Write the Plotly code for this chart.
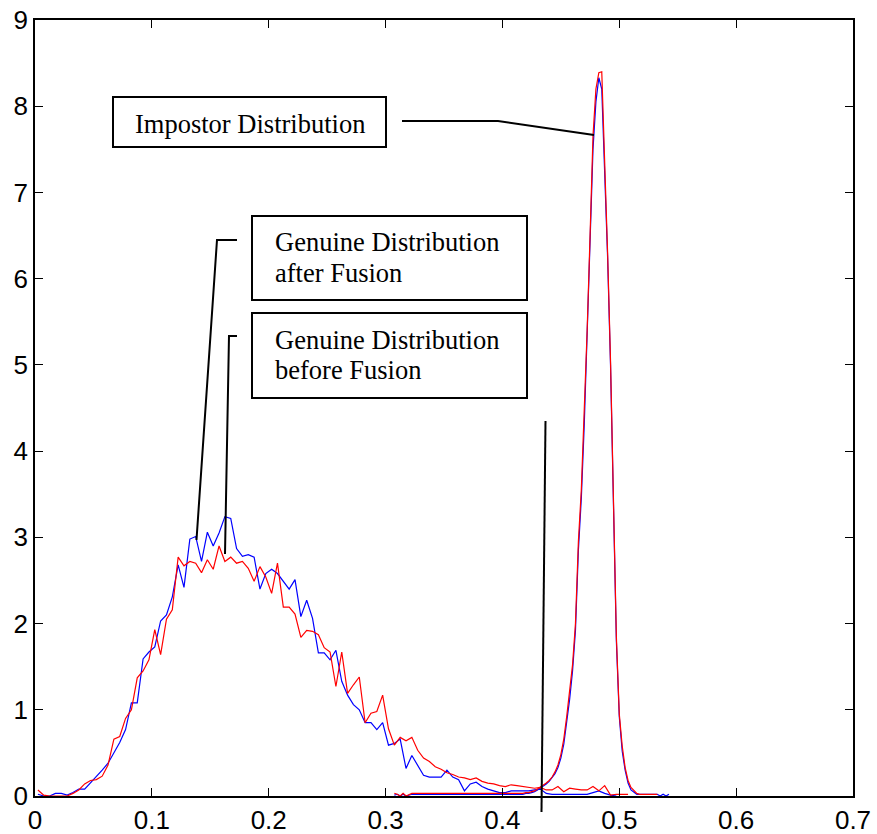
import plotly.graph_objects as go

# ---------------- data ----------------
# Genuine distribution BEFORE fusion (red); bin width 0.005
gen_before_start = 0.0025
gen_before = [0.07, 0.01, 0.00, 0.00, 0.00, 0.00, 0.03, 0.07, 0.14, 0.18,
              0.19, 0.23, 0.36, 0.66, 0.69, 0.90, 1.00, 1.37, 1.45, 1.58,
              1.93, 1.64, 2.05, 2.16, 2.77, 2.67, 2.72, 2.70, 2.59, 2.74,
              2.63, 2.90, 2.72, 2.77, 2.70, 2.72, 2.64, 2.49, 2.66, 2.54,
              2.35, 2.70, 2.19, 2.19, 2.11, 1.84, 1.92, 1.91, 1.87, 1.72,
              1.67, 1.27, 1.67, 1.19, 1.29, 1.38, 0.85, 0.96, 0.98, 1.17,
              0.78, 0.59, 0.68, 0.64, 0.68, 0.53, 0.44, 0.40, 0.34, 0.31,
              0.27, 0.25, 0.22, 0.21, 0.19, 0.21, 0.17, 0.15, 0.14, 0.12,
              0.11, 0.13, 0.12, 0.11, 0.10, 0.09, 0.10, 0.07, 0.07, 0.11,
              0.05, 0.09, 0.08, 0.07, 0.07, 0.11, 0.06, 0.12, 0.01, 0.02,
              0.02, 0.02]

# Genuine distribution AFTER fusion (blue); bins centred at 0.0025 + 0.005k
gen_after_start = 0.0025
gen_after = [0.02, 0.00, 0.00, 0.03, 0.03, 0.01, 0.04, 0.08, 0.08, 0.15,
             0.23, 0.30, 0.38, 0.50, 0.62, 0.77, 1.08, 1.08, 1.59, 1.67,
             1.73, 2.03, 2.10, 2.31, 2.68, 2.42, 2.98, 3.01, 2.72, 3.06,
             2.90, 3.05, 3.24, 3.22, 2.87, 2.78, 2.80, 2.77, 2.40, 2.58,
             2.63, 2.58, 2.49, 2.40, 2.51, 2.08, 2.27, 2.06, 1.66, 1.66,
             1.58, 1.69, 1.33, 1.17, 1.06, 1.00, 0.85, 0.85, 0.77, 0.85,
             0.59, 0.61, 0.66, 0.32, 0.47, 0.36, 0.24, 0.22, 0.22, 0.22,
             0.30, 0.22, 0.19, 0.06, 0.14, 0.16, 0.11, 0.08, 0.06, 0.04,
             0.04, 0.06, 0.06, 0.06, 0.06, 0.07, 0.08, 0.03, 0.02, 0.02,
             0.02, 0.02, 0.02, 0.02, 0.02, 0.04, 0.06, 0.03, 0.01, 0.00]
gen_bin = 0.005

# Impostor distributions; bins centred at 0.3075 + 0.0025k
imp_start = 0.3075
imp_bin = 0.0025
imp_before = [0.03, 0.02, 0.00, 0.03, 0.00, 0.02, 0.03, 0.03, 0.03, 0.03,
              0.03, 0.03, 0.03, 0.03, 0.03, 0.03, 0.03, 0.03, 0.03, 0.03,
              0.03, 0.03, 0.03, 0.03, 0.03, 0.03, 0.03, 0.03, 0.03, 0.03,
              0.03, 0.03, 0.03, 0.03, 0.03, 0.03, 0.03, 0.03, 0.03, 0.03,
              0.03, 0.03, 0.03, 0.03, 0.03, 0.04, 0.04, 0.05, 0.06, 0.08,
              0.10, 0.12, 0.15, 0.18, 0.22, 0.28, 0.36, 0.48, 0.66, 0.92,
              1.20, 1.52, 2.00, 2.95, 3.55, 4.40, 5.40, 6.50, 7.65, 8.20,
              8.39, 8.40, 7.40, 6.30, 5.05, 3.40, 1.85, 0.95, 0.58, 0.33,
              0.18, 0.10, 0.06, 0.03, 0.02, 0.02, 0.02, 0.02, 0.02, 0.02,
              0.02]
imp_after = [0.01, 0.02, 0.00, 0.02, 0.00, 0.01, 0.02, 0.02, 0.02, 0.02,
             0.02, 0.02, 0.02, 0.02, 0.02, 0.02, 0.02, 0.02, 0.02, 0.02,
             0.02, 0.02, 0.02, 0.02, 0.02, 0.02, 0.02, 0.02, 0.02, 0.02,
             0.02, 0.02, 0.02, 0.02, 0.02, 0.02, 0.02, 0.02, 0.02, 0.02,
             0.02, 0.02, 0.02, 0.02, 0.02, 0.03, 0.03, 0.04, 0.05, 0.07,
             0.09, 0.12, 0.14, 0.17, 0.21, 0.26, 0.33, 0.44, 0.60, 0.85,
             1.12, 1.45, 1.92, 2.85, 3.45, 4.30, 5.30, 6.40, 7.50, 8.05,
             8.33, 8.20, 7.30, 6.25, 5.00, 3.35, 1.80, 0.92, 0.52, 0.30,
             0.15, 0.07, 0.04, 0.02, 0.02, 0.02, 0.02, 0.02, 0.02, 0.02,
             0.02, 0.00, 0.02, 0.00, 0.02]

x_ticks = [0, 0.1, 0.2, 0.3, 0.4, 0.5, 0.6, 0.7]
x_tick_text = ["0", "0.1", "0.2", "0.3", "0.4", "0.5", "0.6", "0.7"]
y_ticks = [0, 1, 2, 3, 4, 5, 6, 7, 8, 9]
y_tick_text = ["0", "1", "2", "3", "4", "5", "6", "7", "8", "9"]


def centres(start, width, n):
    return [round(start + width * i, 5) for i in range(n)]


BLUE = "rgb(0,0,255)"
RED = "rgb(255,0,0)"

fig = go.Figure()
fig.add_trace(go.Scatter(x=centres(gen_after_start, gen_bin, len(gen_after)), y=gen_after,
                         mode="lines", line=dict(color=BLUE, width=1.2),
                         name="Genuine after Fusion"))
fig.add_trace(go.Scatter(x=centres(imp_start, imp_bin, len(imp_after)), y=imp_after,
                         mode="lines", line=dict(color=BLUE, width=1.2),
                         name="Impostor after Fusion"))
fig.add_trace(go.Scatter(x=centres(gen_before_start, gen_bin, len(gen_before)), y=gen_before,
                         mode="lines", line=dict(color=RED, width=1.2),
                         name="Genuine before Fusion"))
fig.add_trace(go.Scatter(x=centres(imp_start, imp_bin, len(imp_before)), y=imp_before,
                         mode="lines", line=dict(color=RED, width=1.2),
                         name="Impostor before Fusion"))

# ---------------- layout geometry ----------------
W, H = 877, 834
L, R, T, B = 35, 24, 20, 38
PW, PH = W - L - R, H - T - B


def px(x):
    return (x - L) / PW


def py(y):
    return (H - B - y) / PH


shapes = []
BOX = dict(color="black", width=2)
LEAD = dict(color="black", width=2)
# text boxes
for (x0, y0, x1, y1) in [(113, 97, 386, 147), (252, 216, 527, 300), (252, 313, 527, 398)]:
    shapes.append(dict(type="rect", xref="paper", yref="paper",
                       x0=px(x0), x1=px(x1), y0=py(y1), y1=py(y0),
                       line=BOX, fillcolor="white", layer="above"))


def polyline(pts):
    d = "M " + " L ".join(f"{px(a):.5f},{py(b):.5f}" for a, b in pts)
    return dict(type="path", xref="paper", yref="paper", path=d, line=LEAD, layer="above")


shapes.append(polyline([(402, 121), (498, 121), (594, 135)]))
shapes.append(polyline([(237, 240), (217, 240), (196.5, 540)]))
shapes.append(polyline([(237, 336), (229, 336), (225, 554)]))
shapes.append(polyline([(545.5, 421), (541.5, 812)]))

SERIF = "Liberation Serif, Times New Roman, serif"
TFONT = dict(family=SERIF, size=26.5, color="black")
annotations = []
for text, x, y in [("Impostor Distribution", 133, 124),
                   ("Genuine Distribution", 272.5, 242.5),
                   ("after Fusion", 272.5, 272.5),
                   ("Genuine Distribution", 272.5, 339.5),
                   ("before Fusion", 272.5, 370)]:
    annotations.append(dict(text=text, xref="paper", yref="paper", x=px(x), y=py(y),
                            xanchor="left", yanchor="middle", showarrow=False,
                            font=TFONT, align="left"))

AX_FONT = dict(family="Liberation Sans, Arial, sans-serif", size=26, color="black")
axis_common = dict(showline=True, linecolor="black", linewidth=1.5, mirror="ticks",
                   ticks="inside", ticklen=8, tickwidth=1, tickcolor="black",
                   showgrid=False, zeroline=False, tickfont=AX_FONT, automargin=False)

fig.update_layout(
    width=W, height=H,
    margin=dict(l=L, r=R, t=T, b=B, pad=0, autoexpand=False),
    paper_bgcolor="white", plot_bgcolor="white",
    showlegend=False,
    xaxis=dict(range=[0, 0.7], tickvals=x_ticks, ticktext=x_tick_text, **axis_common),
    yaxis=dict(range=[0, 9], tickvals=y_ticks, ticktext=y_tick_text, **axis_common),
    shapes=shapes,
    annotations=annotations,
)

fig.write_html("out.html")
